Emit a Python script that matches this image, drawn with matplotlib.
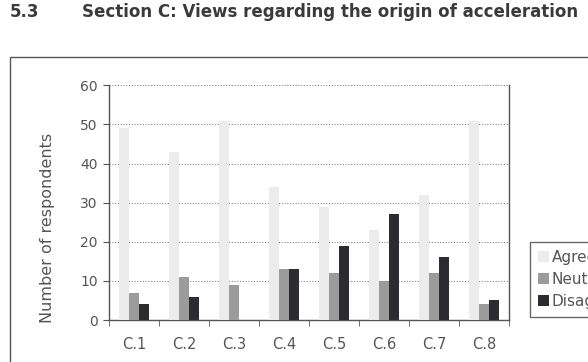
import matplotlib
matplotlib.use('agg')
import matplotlib.pyplot as plt
import numpy as np
from matplotlib.patches import Rectangle

categories = ['C.1', 'C.2', 'C.3', 'C.4', 'C.5', 'C.6', 'C.7', 'C.8']
agree = [49, 43, 51, 34, 29, 23, 32, 51]
neutral = [7, 11, 9, 13, 12, 10, 12, 4]
disagree = [4, 6, 0, 13, 19, 27, 16, 5]
series_names = ['Agree', 'Neutral', 'Disagree']

plt.rcParams['font.family'] = ['DejaVu Sans']

fig = plt.figure(figsize=(5.88, 3.62), dpi=100)
fig.patch.set_facecolor('white')

# heading
fig.text(10 / 588, 1 - 12 / 362, '5.3', fontsize=12, fontweight='bold',
         color='#3a3a3a', va='center', ha='left')
fig.text(82 / 588, 1 - 12 / 362, 'Section C: Views regarding the origin of acceleration',
         fontsize=12, fontweight='bold', color='#3a3a3a', va='center', ha='left')

# outer chart frame (runs past the crop)
fig.patches.append(Rectangle((10 / 588, -0.1), 1.0, (362 - 57) / 362 + 0.1,
                             transform=fig.transFigure, fill=False,
                             edgecolor='#555555', linewidth=1.0))

ax = fig.add_axes([109 / 588, 42 / 362, 400 / 588, 234.7 / 362])

x = np.arange(len(categories))
w = 0.2
colors = ['#ececec', '#9b9b9b', '#2b2b30']
for i, (vals, name) in enumerate(zip([agree, neutral, disagree], series_names)):
    ax.bar(x + (i - 1) * w, vals, w, color=colors[i], label=name, zorder=3)

ax.set_xlim(-0.5, len(categories) - 0.5)
ax.set_ylim(0, 60)
ax.set_yticks(range(0, 61, 10))
ax.yaxis.grid(True, linestyle=(0, (1, 1.5)), color='#888888', linewidth=0.8, zorder=0)

ax.set_xticks(x)
ax.set_xticklabels(categories)
ax.set_xticks(np.arange(-0.5, len(categories), 1), minor=True)
ax.tick_params(axis='x', which='major', length=0, pad=12, labelsize=10.5, labelcolor='#555555')
ax.tick_params(axis='x', which='minor', length=4, color='#555555', direction='out')
ax.tick_params(axis='y', length=4, color='#555555', labelsize=10, labelcolor='#555555', pad=4)

ax.spines['top'].set_visible(False)
for s in ['left', 'bottom', 'right']:
    ax.spines[s].set_color('#555555')
    ax.spines[s].set_linewidth(1.0)

ax.set_ylabel('Number of respondents', fontsize=11.5, color='#555555', va='center')
ax.yaxis.set_label_coords(-0.1525, 0.392)

leg = fig.legend(loc='upper left', bbox_to_anchor=(530 / 588, 1 - 241.7 / 362),
                 frameon=True, fancybox=False, edgecolor='#444444', fontsize=11,
                 handlelength=0.7, handleheight=0.7, handletextpad=0.15,
                 labelspacing=0.45, borderpad=0.55, borderaxespad=0)
leg.get_frame().set_linewidth(1.0)
for t in leg.get_texts():
    t.set_color('#555555')

fig.savefig('out.png', dpi=100)
